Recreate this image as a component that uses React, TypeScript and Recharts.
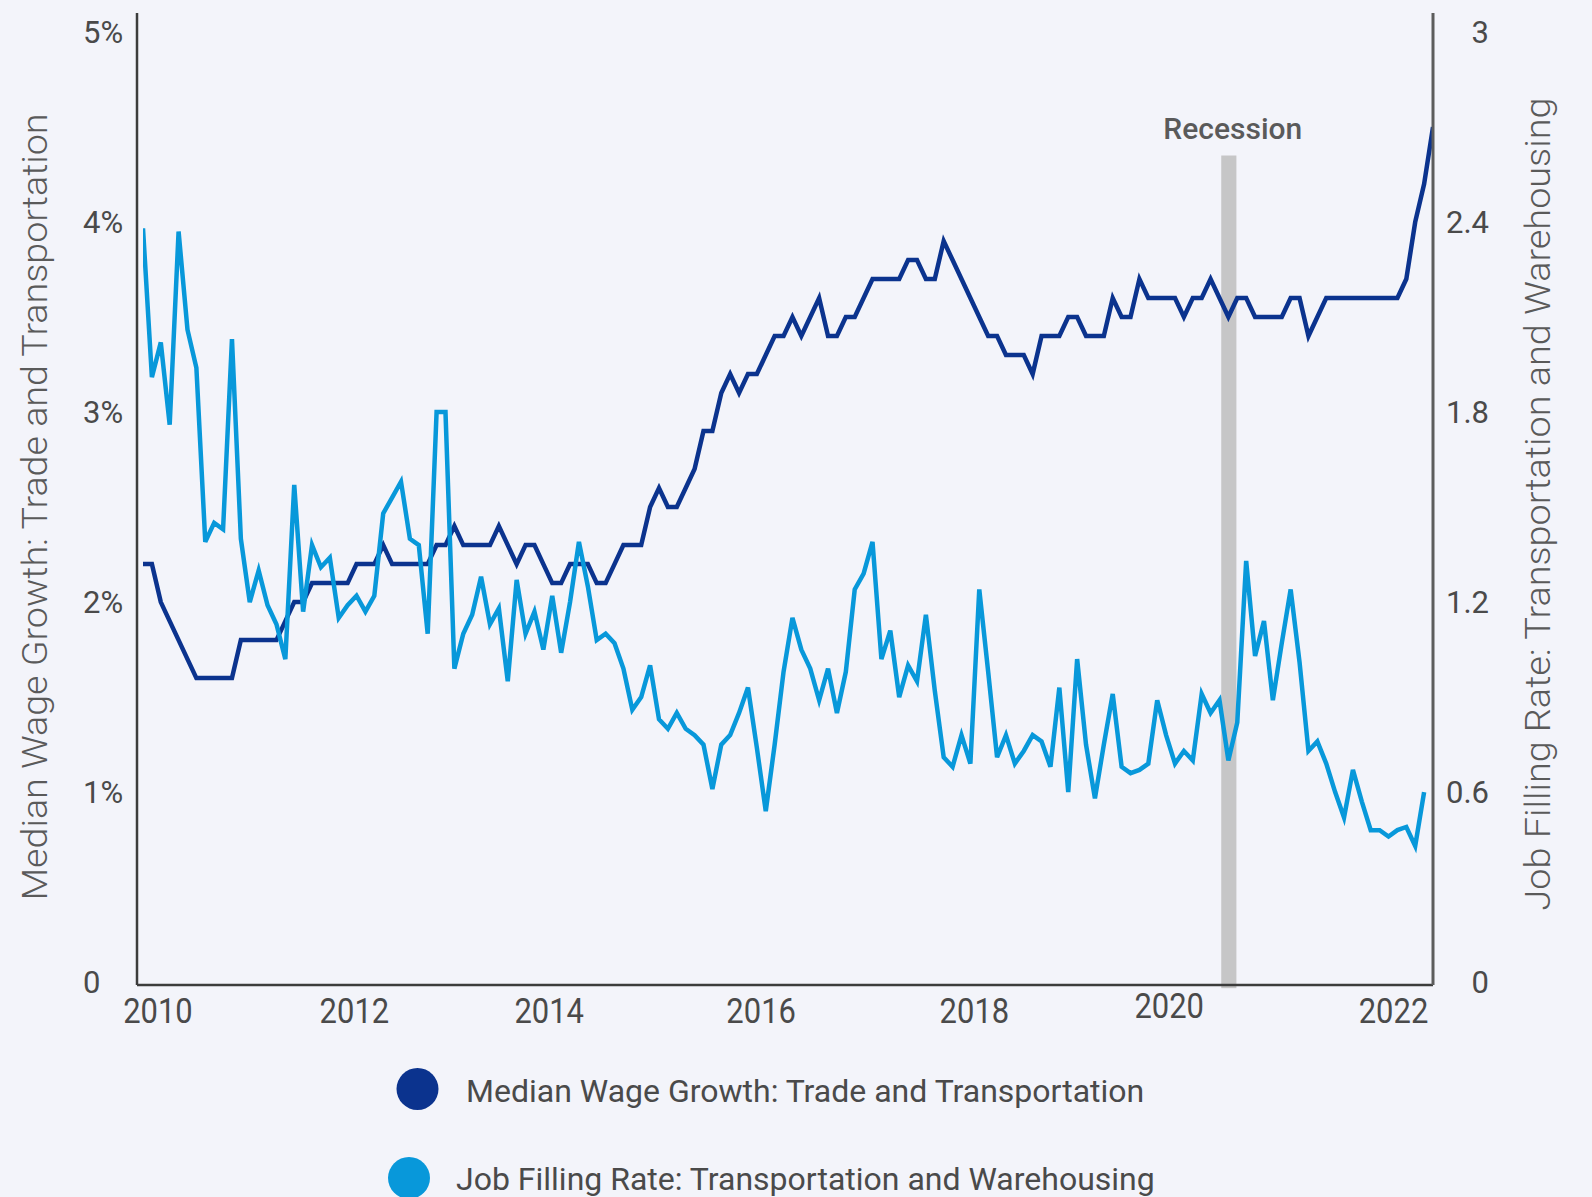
import React from 'react';
import { LineChart, Line, XAxis, YAxis, ReferenceArea, Legend } from 'recharts';

// Monthly observations, starting January 2010
const startYear = 2010;

// Median Wage Growth: Trade and Transportation (%), Jan 2010 – Feb 2022
const wageGrowth = [
  2.2, 2.2, 2.0, 1.9, 1.8, 1.7, 1.6, 1.6, 1.6, 1.6,
  1.6, 1.8, 1.8, 1.8, 1.8, 1.8, 1.9, 2.0, 2.0, 2.1,
  2.1, 2.1, 2.1, 2.1, 2.2, 2.2, 2.2, 2.3, 2.2, 2.2,
  2.2, 2.2, 2.2, 2.3, 2.3, 2.4, 2.3, 2.3, 2.3, 2.3,
  2.4, 2.3, 2.2, 2.3, 2.3, 2.2, 2.1, 2.1, 2.2, 2.2,
  2.2, 2.1, 2.1, 2.2, 2.3, 2.3, 2.3, 2.5, 2.6, 2.5,
  2.5, 2.6, 2.7, 2.9, 2.9, 3.1, 3.2, 3.1, 3.2, 3.2,
  3.3, 3.4, 3.4, 3.5, 3.4, 3.5, 3.6, 3.4, 3.4, 3.5,
  3.5, 3.6, 3.7, 3.7, 3.7, 3.7, 3.8, 3.8, 3.7, 3.7,
  3.9, 3.8, 3.7, 3.6, 3.5, 3.4, 3.4, 3.3, 3.3, 3.3,
  3.2, 3.4, 3.4, 3.4, 3.5, 3.5, 3.4, 3.4, 3.4, 3.6,
  3.5, 3.5, 3.7, 3.6, 3.6, 3.6, 3.6, 3.5, 3.6, 3.6,
  3.7, 3.6, 3.5, 3.6, 3.6, 3.5, 3.5, 3.5, 3.5, 3.6,
  3.6, 3.4, 3.5, 3.6, 3.6, 3.6, 3.6, 3.6, 3.6, 3.6,
  3.6, 3.6, 3.7, 4.0, 4.2, 4.5,
];

// Job Filling Rate: Transportation and Warehousing, Jan 2010 – Jan 2022
const jobFillingRate = [
  2.38, 1.91, 2.02, 1.76, 2.37, 2.06, 1.94, 1.39, 1.45, 1.43,
  2.03, 1.40, 1.20, 1.30, 1.19, 1.13, 1.02, 1.57, 1.17, 1.38,
  1.31, 1.34, 1.15, 1.19, 1.22, 1.17, 1.22, 1.48, 1.53, 1.58,
  1.40, 1.38, 1.10, 1.80, 1.80, 0.99, 1.10, 1.16, 1.28, 1.13,
  1.18, 0.95, 1.27, 1.10, 1.17, 1.05, 1.22, 1.04, 1.20, 1.39,
  1.25, 1.08, 1.10, 1.07, 0.99, 0.86, 0.90, 1.00, 0.83, 0.80,
  0.85, 0.80, 0.78, 0.75, 0.61, 0.75, 0.78, 0.85, 0.93, 0.74,
  0.54, 0.75, 0.98, 1.15, 1.05, 0.99, 0.89, 0.99, 0.85, 0.98,
  1.24, 1.29, 1.39, 1.02, 1.11, 0.90, 1.00, 0.95, 1.16, 0.92,
  0.71, 0.68, 0.78, 0.69, 1.24, 0.98, 0.71, 0.78, 0.69, 0.73,
  0.78, 0.76, 0.68, 0.93, 0.60, 1.02, 0.75, 0.58, 0.75, 0.91,
  0.68, 0.66, 0.67, 0.69, 0.89, 0.78, 0.69, 0.73, 0.70, 0.91,
  0.85, 0.89, 0.70, 0.82, 1.33, 1.03, 1.14, 0.89, 1.07, 1.24,
  1.01, 0.73, 0.76, 0.69, 0.60, 0.52, 0.67, 0.57, 0.48, 0.48,
  0.46, 0.48, 0.49, 0.43, 0.60,
];

// X tick labels and where the reference places them (in month-index units)
const xTickLabels = ['2010', '2012', '2014', '2016', '2018', '2020', '2022'];
const xTickPositions = [1.68, 23.76, 45.66, 69.48, 93.45, 115.35, 140.56];

const leftTicks = [0, 1, 2, 3, 4, 5];
const rightTicks = [0, 0.6, 1.2, 1.8, 2.4, 3];

// Recession band (month-index units) and its height on the left axis
const recessionStart = 121.2;
const recessionEnd = 122.9;
const recessionTop = 4.35;

const seriesNames = {
  wage: 'Median Wage Growth: Trade and Transportation',
  jfr: 'Job Filling Rate: Transportation and Warehousing',
};

const COLORS = {
  wage: '#0b338e',
  jfr: '#0898da',
  text: '#4a4a4a',
  title: '#5a5a5a',
  axis: '#3c3c3c',
  axisRight: '#5c5c5c',
  band: '#bdbdbd',
  bg: '#f3f4fa',
};

const months = wageGrowth.map(
  (_, i) => `${startYear + Math.floor(i / 12)}-${String((i % 12) + 1).padStart(2, '0')}`
);

const data = months.map((month, i) => ({
  t: i,
  month,
  wage: wageGrowth[i],
  jfr: i < jobFillingRate.length ? jobFillingRate[i] : null,
}));

const FONT = 'Roboto, "Noto Sans", sans-serif';

const XTick = (props: any) => {
  const { x, payload } = props;
  const idx = xTickPositions.indexOf(payload.value);
  const label = xTickLabels[idx] ?? '';
  const cy = label === '2020' ? 1005.5 : 1011;
  return (
    <g transform={`translate(${x},${cy}) scale(0.86,1)`}>
      <text
        x={0}
        y={0}
        textAnchor="middle"
        dominantBaseline="central"
        fontSize={36}
        fontFamily={FONT}
        fill={COLORS.text}
      >
        {label}
      </text>
    </g>
  );
};

const LeftTick = (props: any) => {
  const { y, payload } = props;
  const v = payload.value;
  return (
    <text
      x={83}
      y={y}
      textAnchor="start"
      dominantBaseline="central"
      fontSize={31}
      fontFamily={FONT}
      fill={COLORS.text}
    >
      {v === 0 ? '0' : `${v}%`}
    </text>
  );
};

const RightTick = (props: any) => {
  const { y, payload } = props;
  return (
    <text
      x={1489}
      y={y}
      textAnchor="end"
      dominantBaseline="central"
      fontSize={31}
      fontFamily={FONT}
      fill={COLORS.text}
    >
      {String(payload.value)}
    </text>
  );
};

const AxisTitle = (props: any) => {
  const { tx, ty, text, len } = props;
  return (
    <text
      x={tx}
      y={ty}
      transform={`rotate(-90 ${tx} ${ty})`}
      textAnchor="middle"
      fontSize={35}
      fontWeight={300}
      fontFamily={FONT}
      fill={COLORS.title}
      textLength={len}
      lengthAdjust="spacingAndGlyphs"
    >
      {text}
    </text>
  );
};

const BandShape = (props: any) => {
  const { x, y, width, height } = props;
  return (
    <rect x={x} y={y} width={width} height={height + 6} fill={COLORS.band} fillOpacity={0.85} />
  );
};

const RecessionLabel = (props: any) => {
  const vb = props.viewBox || {};
  const cx = (vb.x ?? 0) + (vb.width ?? 0) / 2 + 4;
  return (
    <text
      x={cx}
      y={(vb.y ?? 0) - 17}
      textAnchor="middle"
      fontSize={30}
      fontWeight={500}
      fontFamily={FONT}
      fill={COLORS.title}
    >
      Recession
    </text>
  );
};

const LegendContent = () => (
  <svg width={1592} height={157} style={{ display: 'block' }}>
    <circle cx={417.5} cy={49} r={21} fill={COLORS.wage} />
    <text x={466} y={61.5} fontSize={32} fontFamily={FONT} fill={COLORS.text}>
      {seriesNames.wage}
    </text>
    <circle cx={409} cy={138} r={21} fill={COLORS.jfr} />
    <text x={456} y={150} fontSize={32} fontFamily={FONT} fill={COLORS.text}>
      {seriesNames.jfr}
    </text>
  </svg>
);

export default function App() {
  return (
    <div
      style={{
        position: 'absolute',
        left: 0,
        top: 0,
        width: 1592,
        height: 1197,
        background: COLORS.bg,
        overflow: 'hidden',
      }}
    >
      <LineChart
        width={1592}
        height={1197}
        data={data}
        margin={{ top: 13, right: 0, bottom: 0, left: 0 }}
        style={{ fontFamily: FONT }}
      >
        <XAxis
          dataKey="t"
          type="number"
          domain={[0, 145]}
          ticks={xTickPositions}
          interval={0}
          tick={<XTick />}
          tickLine={false}
          axisLine={{ stroke: COLORS.axis, strokeWidth: 2.5 }}
          height={212}
          padding={{ left: 6, right: 0 }}
          allowDataOverflow
        />
        <YAxis
          yAxisId="left"
          orientation="left"
          width={137}
          domain={[-0.015, 5.1]}
          ticks={leftTicks}
          interval={0}
          tick={<LeftTick />}
          tickLine={false}
          axisLine={{ stroke: COLORS.axis, strokeWidth: 2.5 }}
          allowDataOverflow
          label={<AxisTitle tx={46.7} ty={507} text={seriesNames.wage} len={787} />}
        />
        <YAxis
          yAxisId="right"
          orientation="right"
          width={159}
          domain={[-0.009, 3.06]}
          ticks={rightTicks}
          interval={0}
          tick={<RightTick />}
          tickLine={false}
          axisLine={{ stroke: COLORS.axisRight, strokeWidth: 3 }}
          allowDataOverflow
          label={<AxisTitle tx={1550} ty={504} text={seriesNames.jfr} len={813} />}
        />
        <Line
          yAxisId="left"
          dataKey="wage"
          name={seriesNames.wage}
          stroke={COLORS.wage}
          strokeWidth={4.5}
          dot={false}
          activeDot={false}
          strokeLinejoin="miter"
          isAnimationActive={false}
        />
        <Line
          yAxisId="right"
          dataKey="jfr"
          name={seriesNames.jfr}
          stroke={COLORS.jfr}
          strokeWidth={4.5}
          dot={false}
          activeDot={false}
          strokeLinejoin="miter"
          isAnimationActive={false}
        />
        <ReferenceArea
          yAxisId="left"
          x1={recessionStart}
          x2={recessionEnd}
          y1={0}
          y2={recessionTop}
          shape={<BandShape />}
          label={<RecessionLabel />}
          ifOverflow="visible"
        />
        <Legend
          layout="horizontal"
          verticalAlign="middle"
          align="center"
          content={<LegendContent />}
          wrapperStyle={{ position: 'absolute', left: 0, top: 1040, width: 1592, height: 157 }}
        />
      </LineChart>
    </div>
  );
}
